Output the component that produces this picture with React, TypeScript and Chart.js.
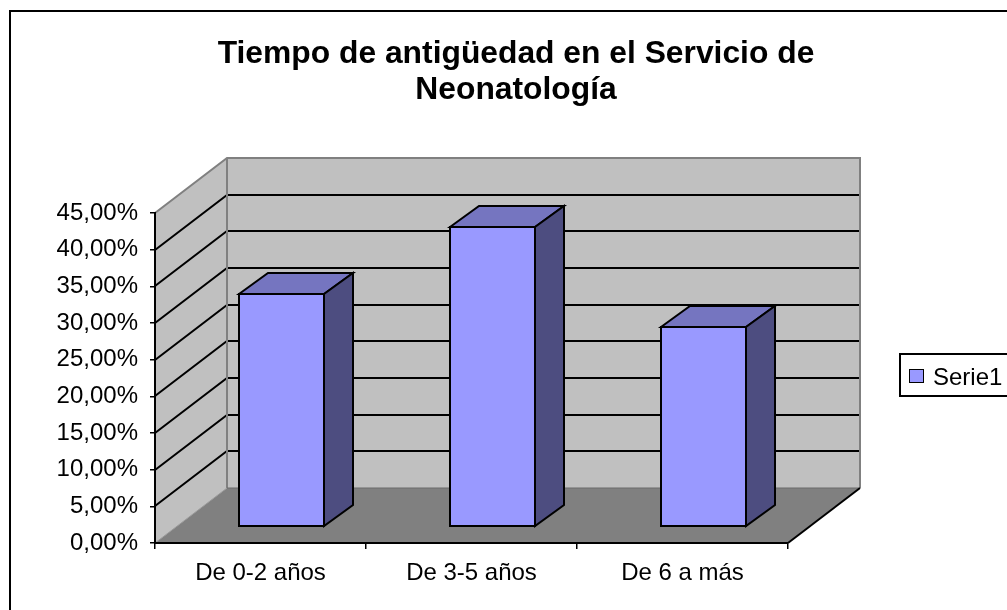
import React, { useEffect, useRef } from "react";
import { Chart, registerables } from "chart.js";

Chart.register(...registerables);

const TITLE_LINES = ["Tiempo de antigüedad en el Servicio de", "Neonatología"];
const CATEGORIES = ["De 0-2 años", "De 3-5 años", "De 6 a más"];
const SERIES_NAME = "Serie1";
const SERIES_VALUES = [0.3182, 0.4091, 0.2727];
const Y_TICK_LABELS = [
  "0,00%", "5,00%", "10,00%", "15,00%", "20,00%",
  "25,00%", "30,00%", "35,00%", "40,00%", "45,00%",
];
const Y_MAX = 0.45;
const Y_STEP = 0.05;

const FONT = "'Liberation Sans', Arial, sans-serif";
const DX = 72;
const DY = 55;
const FRONT = 0.29;
const DEPTH_X = 29;
const DEPTH_Y = 21;

const FACE = "#9999FF";
const TOP = "#7575C0";
const SIDE = "#4D4D80";

function poly(ctx: CanvasRenderingContext2D, pts: number[][]) {
  ctx.beginPath();
  ctx.moveTo(pts[0][0], pts[0][1]);
  for (let i = 1; i < pts.length; i++) ctx.lineTo(pts[i][0], pts[i][1]);
  ctx.closePath();
}

function line(ctx: CanvasRenderingContext2D, pts: number[][], color: string, w: number) {
  ctx.beginPath();
  ctx.moveTo(pts[0][0], pts[0][1]);
  for (let i = 1; i < pts.length; i++) ctx.lineTo(pts[i][0], pts[i][1]);
  ctx.strokeStyle = color;
  ctx.lineWidth = w;
  ctx.stroke();
}

const wallsPlugin = {
  id: "walls3d",
  beforeDraw(chart: any) {
    const { ctx, chartArea: a, scales } = chart;
    const ys = scales.y;
    const L = a.left, R = a.right, T = a.top, B = a.bottom;
    ctx.save();
    ctx.fillStyle = "#ffffff";
    ctx.fillRect(0, 0, chart.width, chart.height);
    // outer chart border
    ctx.fillStyle = "#000000";
    ctx.fillRect(9, 10, chart.width, 2);
    ctx.fillRect(9, 10, 2, chart.height);

    // back wall
    ctx.fillStyle = "#C0C0C0";
    ctx.fillRect(L + DX, T - DY, R - L, B - T);
    // side wall
    poly(ctx, [[L, T], [L + DX, T - DY], [L + DX, B - DY], [L, B]]);
    ctx.fill();
    // floor
    ctx.fillStyle = "#808080";
    poly(ctx, [[L, B], [L + DX, B - DY], [R + DX, B - DY], [R, B]]);
    ctx.fill();

    // gridlines
    for (const t of ys.ticks) {
      const v = t.value;
      if (v <= 1e-9 || v >= Y_MAX - 1e-9) continue;
      const py = Math.round(ys.getPixelForValue(v));
      line(ctx, [[L, py], [L + DX, py - DY], [R + DX, py - DY]], "#000000", 2);
    }

    // wall edges
    line(ctx, [[L, T], [L + DX, T - DY], [R + DX, T - DY], [R + DX, B - DY]], "#808080", 2);
    line(ctx, [[L + DX, T - DY], [L + DX, B - DY]], "#808080", 2);
    line(ctx, [[L + DX, B - DY], [R + DX, B - DY]], "#6a6a6a", 1);
    line(ctx, [[L, B], [L + DX, B - DY]], "#9a9a9a", 1);
    line(ctx, [[R, B], [R + DX, B - DY]], "#000000", 2);
    ctx.restore();
  },
  afterDatasetsDraw(chart: any) {
    const { ctx } = chart;
    const meta = chart.getDatasetMeta(0);
    const fx = DX * FRONT;
    const fy = DY * FRONT;
    ctx.save();
    ctx.lineWidth = 2;
    ctx.strokeStyle = "#000000";
    ctx.lineJoin = "miter";
    meta.data.forEach((el: any) => {
      const { x, y, base, width } = el.getProps(["x", "y", "base", "width"], true);
      const x0 = Math.round(x - width / 2 + fx);
      const x1 = Math.round(x + width / 2 + fx);
      const y0 = Math.round(y - fy);
      const y1 = Math.round(base - fy);
      // front
      ctx.fillStyle = FACE;
      ctx.fillRect(x0, y0, x1 - x0, y1 - y0);
      // top
      poly(ctx, [[x0, y0], [x0 + DEPTH_X, y0 - DEPTH_Y], [x1 + DEPTH_X, y0 - DEPTH_Y], [x1, y0]]);
      ctx.fillStyle = TOP;
      ctx.fill();
      ctx.stroke();
      // side
      poly(ctx, [[x1, y0], [x1 + DEPTH_X, y0 - DEPTH_Y], [x1 + DEPTH_X, y1 - DEPTH_Y], [x1, y1]]);
      ctx.fillStyle = SIDE;
      ctx.fill();
      ctx.stroke();
      ctx.strokeRect(x0, y0, x1 - x0, y1 - y0);
    });
    ctx.restore();
  },
  afterDraw(chart: any) {
    const { ctx } = chart;
    ctx.save();
    // title
    ctx.fillStyle = "#000000";
    ctx.font = `bold 31.8px ${FONT}`;
    ctx.textAlign = "center";
    ctx.textBaseline = "alphabetic";
    ctx.fillText(TITLE_LINES[0], 516, 63);
    ctx.fillText(TITLE_LINES[1], 516, 99);
    // legend
    ctx.lineWidth = 2;
    ctx.strokeStyle = "#000000";
    ctx.strokeRect(900, 354, 200, 42);
    ctx.fillStyle = FACE;
    ctx.fillRect(909, 369, 15, 14);
    ctx.lineWidth = 1;
    ctx.strokeRect(909.5, 369.5, 14, 13);
    ctx.fillStyle = "#000000";
    ctx.font = `24px ${FONT}`;
    ctx.textAlign = "left";
    ctx.fillText(chart.data.datasets[0].label, 933, 385);
    ctx.restore();
  },
};

export default function App() {
  const ref = useRef<HTMLCanvasElement | null>(null);
  useEffect(() => {
    if (!ref.current) return;
    const chart = new Chart(ref.current, {
      type: "bar",
      data: {
        labels: CATEGORIES,
        datasets: [
          {
            label: SERIES_NAME,
            data: SERIES_VALUES,
            backgroundColor: "rgba(0,0,0,0)",
            borderWidth: 0,
            barPercentage: 0.4,
            categoryPercentage: 1,
          },
        ],
      },
      options: {
        responsive: false,
        animation: false,
        events: [],
        layout: { padding: { left: 0, top: 213, right: 219, bottom: 0 } },
        plugins: {
          legend: { display: false },
          title: { display: false },
          tooltip: { enabled: false },
        },
        scales: {
          x: {
            offset: true,
            grid: {
              offset: true,
              display: true,
              drawOnChartArea: false,
              drawTicks: true,
              tickLength: 6,
              color: "#000000",
              lineWidth: 1.5,
            },
            border: { display: true, color: "#000000", width: 2 },
            ticks: {
              color: "#000000",
              font: { family: FONT, size: 24 },
              padding: 10,
              maxRotation: 0,
              autoSkip: false,
            },
            afterFit: (s: any) => {
              s.height = 67;
            },
          },
          y: {
            min: 0,
            max: Y_MAX,
            grid: {
              display: true,
              drawOnChartArea: false,
              drawTicks: true,
              tickLength: 5,
              color: "#000000",
              lineWidth: 1.5,
            },
            border: { display: true, color: "#000000", width: 2 },
            ticks: {
              stepSize: Y_STEP,
              color: "#000000",
              font: { family: FONT, size: 24 },
              padding: 12,
              autoSkip: false,
              callback: (_v: any, i: number) => Y_TICK_LABELS[i],
            },
            afterFit: (s: any) => {
              s.width = 155;
            },
          },
        },
      },
      plugins: [wallsPlugin],
    });
    return () => chart.destroy();
  }, []);
  return (
    <div style={{ position: "absolute", left: 0, top: 0, width: 1007, height: 610, background: "#fff" }}>
      <canvas ref={ref} width={1007} height={610} style={{ display: "block" }} />
    </div>
  );
}
